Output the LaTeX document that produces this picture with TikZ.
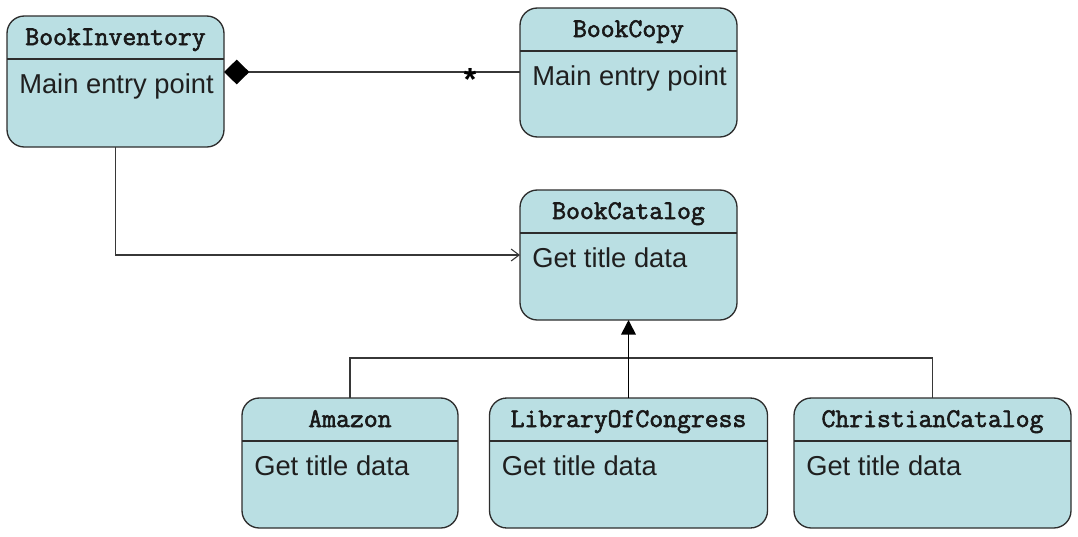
\documentclass[tikz,border=0pt]{standalone}
\usepackage{fontspec}
\setmainfont{Liberation Sans}
\newfontfamily\umltitlefont{Latin Modern Mono}[FakeBold=2.2]
\usetikzlibrary{arrows.meta,calc}
\definecolor{boxfill}{RGB}{186,223,227}
\definecolor{edgecol}{RGB}{45,45,45}
\definecolor{conncol}{RGB}{55,55,55}
\tikzset{
  cls/.style={draw=edgecol, line width=1pt, fill=boxfill, rounded corners=13pt, inner sep=0pt, outer sep=0pt},
  divline/.style={draw=edgecol, line width=1pt},
  titletext/.style={font=\umltitlefont\fontsize{20.2}{22}\selectfont, inner sep=0pt, text=black!90},
  bodytext/.style={font=\fontsize{20.5}{24}\selectfont, inner sep=0pt, text=black!88},
  multtext/.style={font=\bfseries\fontsize{24}{26}\selectfont, inner sep=0pt, text=black},
  conn/.style={draw=conncol, line width=0.8pt},
}
\newcommand\umlclass[7]{%
  \node[cls, minimum width=#4*0.75pt, minimum height=#5*0.75pt] (#1) at (#2,#3) {};
  \draw[divline] ($(#1.north west)+(0,43)$) -- ($(#1.north east)+(0,43)$);
  \node[titletext, anchor=base] (#1-title) at ($(#1.north)+(0,29)$) {#6};
  \node[bodytext, anchor=base west] (#1-body) at ($(#1.north west)+(12,77)$) {#7};
}
\begin{document}
\begin{tikzpicture}[x=0.75pt,y=-0.75pt]
  \useasboundingbox (0,0) rectangle (1078,536);
  \umlclass{inv}{115.5}{81.5}{217}{131}{BookInventory}{Main entry point}
  \umlclass{copy}{628.5}{72.5}{217}{129}{BookCopy}{Main entry point}
  \umlclass{cat}{628.5}{255}{217}{130}{BookCatalog}{Get title data}
  \umlclass{amz}{350}{463}{216}{130}{Amazon}{Get title data}
  \umlclass{loc}{628.5}{463}{278}{130}{LibraryOfCongress}{Get title data}
  \umlclass{chr}{932.5}{463}{277}{130}{ChristianCatalog}{Get title data}

  % composition
  \draw[conn, {Diamond[length=19pt,width=18.5pt,color=black]}-] ($(inv.north east)+(0,56)$) -- ($(copy.north west)+(0,64)$);
  \node[multtext, anchor=base] (mult) at (470,90) {*};

  % association
  \draw[conn, -{Straight Barb[length=6pt,width=9pt]}] (inv.south) |- (cat.west);

  % inheritance
  \coordinate (bus) at (628.5,358);
  \draw[conn] (amz.north) |- (bus) -| (chr.north);
  \draw[conn, draw=black, line width=1.3pt, -{Triangle[length=11pt,width=11pt]}] (loc.north) -- (cat.south);
\end{tikzpicture}
\end{document}
